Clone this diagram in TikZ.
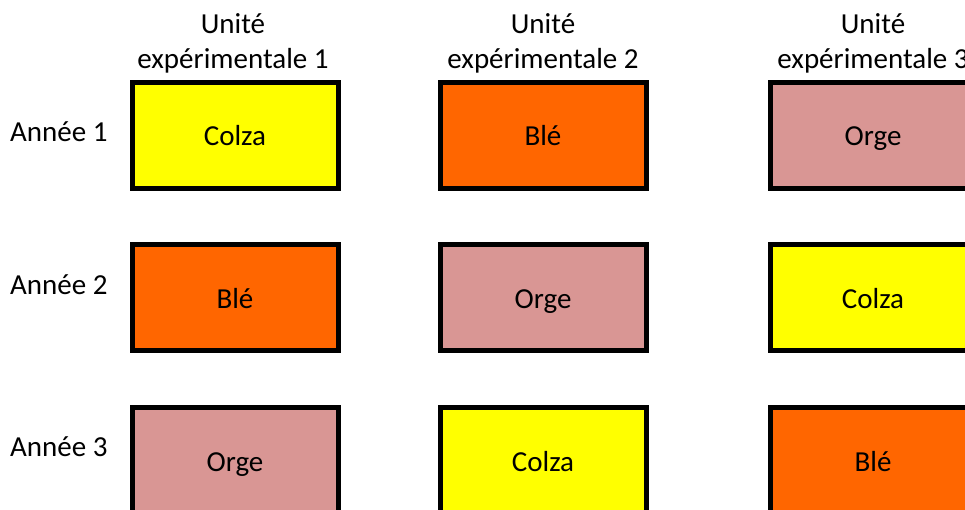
\documentclass[tikz,border=0pt]{standalone}
\usepackage{fontspec}
\setmainfont{Carlito}
\definecolor{colza}{HTML}{FFFF00}
\definecolor{ble}{HTML}{FF6600}
\definecolor{orge}{HTML}{D99694}
\begin{document}
\begin{tikzpicture}[x=1pt,y=-1pt,
  every node/.style={font=\fontsize{29}{35}\selectfont, inner sep=0pt},
  cell/.style={draw=black, line width=5pt, minimum width=206pt, minimum height=106pt, text height=27pt, text depth=6pt},
  head/.style={align=center},
  year/.style={anchor=west}]
\useasboundingbox (0,0) rectangle (965,509);
% headers
\node[head] (h1) at (233,43) {Unité\\expérimentale 1};
\node[head] (h2) at (543,43) {Unité\\expérimentale 2};
\node[head] (h3) at (873,43) {Unité\\expérimentale 3};
% years
\node[year] (y1) at (10,132) {Année 1};
\node[year] (y2) at (10,285) {Année 2};
\node[year] (y3) at (10,447) {Année 3};
% cells
\node[cell, fill=colza] (c11) at (235,135) {Colza};
\node[cell, fill=ble]   (c12) at (543,135) {Blé};
\node[cell, fill=orge]  (c13) at (873,135) {Orge};
\node[cell, fill=ble]   (c21) at (235,297.5) {Blé};
\node[cell, fill=orge]  (c22) at (543,297.5) {Orge};
\node[cell, fill=colza] (c23) at (873,297.5) {Colza};
\node[cell, fill=orge]  (c31) at (235,460.5) {Orge};
\node[cell, fill=colza] (c32) at (543,460.5) {Colza};
\node[cell, fill=ble]   (c33) at (873,460.5) {Blé};
\end{tikzpicture}
\end{document}
